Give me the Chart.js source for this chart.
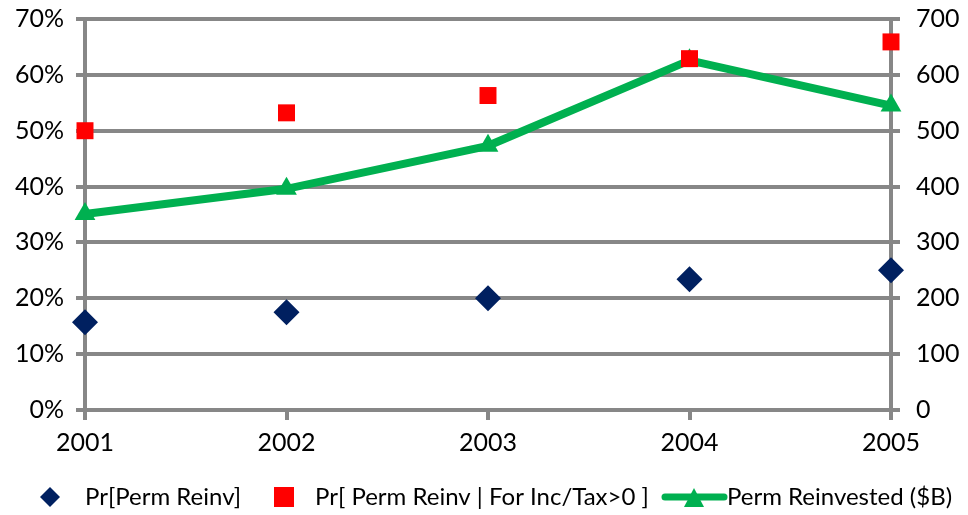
<!DOCTYPE html>
<html>
<head>
<meta charset="utf-8">
<script src="https://cdn.jsdelivr.net/npm/chart.js@4"></script>
<style>
  body { margin: 0; background: #fff; }
  #wrap { width: 968px; height: 515px; }
</style>
</head>
<body>
<div id="wrap"><canvas id="myChart"></canvas></div>
<script>
const years = ["2001", "2002", "2003", "2004", "2005"];
const permReinvPct = [15.7, 17.5, 20.0, 23.4, 25.0];
const permReinvPosPct = [50.0, 53.2, 56.3, 62.9, 65.9];
const permReinvested = [351, 396, 473, 626, 545];

const gray = "#878787";
const font = { family: "Lato, 'Open Sans', sans-serif", size: 25 };
const yFont = { family: "Lato, 'Open Sans', sans-serif", size: 25, lineHeight: 0.2 };

// legend drawn by hand so the line entry shows line + triangle
const bottomLegend = {
  id: "bottomLegend",
  afterDraw(chart) {
    const ctx = chart.ctx;
    const y = 497;
    ctx.save();
    ctx.font = "24px Lato, 'Open Sans', sans-serif";
    ctx.fillStyle = "#000";
    ctx.textBaseline = "middle";

    // diamond
    ctx.fillStyle = "#002060";
    ctx.beginPath();
    ctx.moveTo(50, y - 10); ctx.lineTo(60, y); ctx.lineTo(50, y + 10); ctx.lineTo(40, y);
    ctx.closePath(); ctx.fill();
    ctx.fillStyle = "#000";
    ctx.fillText(chart.data.datasets[0].label, 85, y);

    // square
    ctx.fillStyle = "#ff0000";
    ctx.fillRect(274, y - 10, 20, 20);
    ctx.fillStyle = "#000";
    ctx.fillText(chart.data.datasets[1].label, 315, y);

    // line + triangle
    ctx.strokeStyle = "#00b050";
    ctx.lineWidth = 7;
    ctx.lineCap = "round";
    ctx.beginPath(); ctx.moveTo(665, y); ctx.lineTo(724, y); ctx.stroke();
    ctx.fillStyle = "#00b050";
    ctx.beginPath();
    ctx.moveTo(694, y - 9); ctx.lineTo(704, y + 10); ctx.lineTo(684, y + 10);
    ctx.closePath(); ctx.fill();
    ctx.fillStyle = "#000";
    ctx.fillText(chart.data.datasets[2].label, 727, y);
    ctx.restore();
  }
};

new Chart(document.getElementById("myChart"), {
  type: "line",
  data: {
    labels: years,
    datasets: [
      {
        label: "Pr[Perm Reinv]",
        data: permReinvPct,
        yAxisID: "y",
        showLine: false,
        pointStyle: "rectRot",
        pointRadius: 13,
        backgroundColor: "#002060",
        borderColor: "#002060",
        borderWidth: 0,
      },
      {
        label: "Pr[ Perm Reinv | For Inc/Tax>0 ]",
        data: permReinvPosPct,
        yAxisID: "y",
        showLine: false,
        pointStyle: "rect",
        pointRadius: 12,
        backgroundColor: "#ff0000",
        borderColor: "#ff0000",
        borderWidth: 0,
      },
      {
        label: "Perm Reinvested ($B)",
        data: permReinvested,
        yAxisID: "y2",
        borderColor: "#00b050",
        backgroundColor: "#00b050",
        borderWidth: 8,
        pointStyle: "triangle",
        pointRadius: 12,
        pointBorderWidth: 0,
        tension: 0,
      },
    ],
  },
  options: {
    responsive: true,
    maintainAspectRatio: false,
    animation: false,
    layout: { padding: { top: 19, left: 0, right: 0, bottom: 0 } },
    plugins: {
      legend: { display: false },
      tooltip: { enabled: false },
    },
    scales: {
      x: {
        offset: false,
        afterFit: (s) => { s.height = 105; },
        grid: {
          drawOnChartArea: false,
          color: gray,
          lineWidth: 4,
          tickLength: 10,
        },
        border: { display: false },
        ticks: { color: "#000", font: font, padding: 8, maxRotation: 0 },
      },
      y: {
        position: "left",
        min: 0,
        max: 70,
        afterFit: (s) => { s.width = 85; },
        grid: { color: gray, lineWidth: 4, tickLength: 9 },
        border: { display: true, color: gray, width: 4 },
        ticks: {
          stepSize: 10,
          color: "#000",
          font: yFont,
          padding: 12,
          callback: (v) => v + "%",
        },
      },
      y2: {
        position: "right",
        min: 0,
        max: 700,
        afterFit: (s) => { s.width = 77; },
        grid: { drawOnChartArea: false, color: gray, lineWidth: 4, tickLength: 9 },
        border: { display: true, color: gray, width: 4 },
        ticks: { stepSize: 100, color: "#000", font: yFont, padding: 16 },
      },
    },
  },
  plugins: [bottomLegend],
});
</script>
</body>
</html>
